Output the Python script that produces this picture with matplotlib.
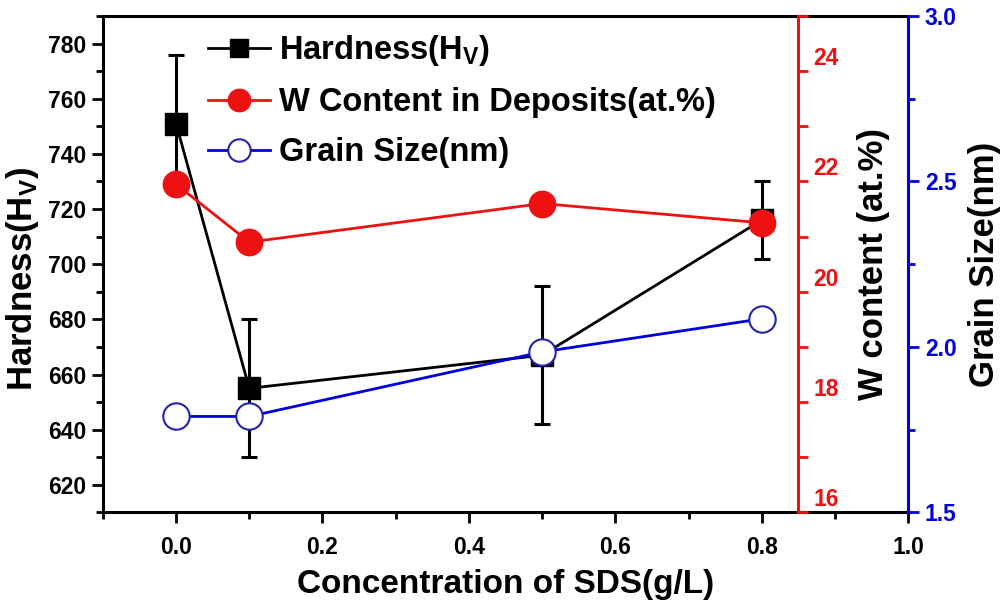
import matplotlib.pyplot as plt
from matplotlib.ticker import MultipleLocator, FuncFormatter, FormatStrFormatter
from matplotlib.transforms import ScaledTranslation

plt.rcParams['font.family'] = ['Liberation Sans', 'DejaVu Sans']
plt.rcParams['font.weight'] = 'bold'
plt.rcParams['mathtext.fontset'] = 'custom'
plt.rcParams['mathtext.rm'] = 'Liberation Sans:bold'
plt.rcParams['mathtext.it'] = 'Liberation Sans:bold'
plt.rcParams['mathtext.bf'] = 'Liberation Sans:bold'

# data
sds = [0.0, 0.1, 0.5, 0.8]
hardness = [751, 655, 667, 716]
hardness_err = [25, 25, 25, 14]
w_content = [21.95, 20.9, 21.6, 21.25]
grain_size = [1.79, 1.79, 1.985, 2.085]

red = '#ee1111'
blue = '#0000dd'
tick_size = 16.5

fig, ax = plt.subplots(figsize=(10.08, 6.05), dpi=100)
fig.subplots_adjust(left=0.102, right=0.901, top=0.9736, bottom=0.153)

# hardness on the left axis
ax.errorbar(sds, hardness, yerr=hardness_err, fmt='none', ecolor='black',
            elinewidth=2.2, capsize=6, capthick=2.2, zorder=2)
h1, = ax.plot(sds, hardness, '-s', color='black', lw=2, ms=16, zorder=3,
              label='Hardness(H$_\\mathrm{V}$)')
ax.set_xlim(-0.1, 1.0)
ax.set_ylim(610, 790)
ax.xaxis.set_major_locator(MultipleLocator(0.2))
ax.xaxis.set_minor_locator(MultipleLocator(0.1))
ax.xaxis.set_major_formatter(FormatStrFormatter('%.1f'))
ax.yaxis.set_major_locator(MultipleLocator(20))
ax.yaxis.set_minor_locator(MultipleLocator(10))
ax.tick_params(which='major', direction='out', length=8, width=2, labelsize=tick_size)
ax.tick_params(which='minor', direction='out', length=5, width=2)
ax.tick_params(axis='x', pad=9)
ax.tick_params(axis='y', pad=4)
for s in ['left', 'bottom', 'top']:
    ax.spines[s].set_linewidth(2.2)
ax.spines['right'].set_visible(False)
ax.set_xlabel('Concentration of SDS(g/L)', fontsize=24, fontweight='bold', labelpad=7)
ax.set_ylabel('Hardness(H$_\\mathrm{V}$)', fontsize=25, fontweight='bold')
ax.yaxis.set_label_coords(-0.077, 0.47)

# W content on the middle axis
axw = ax.twinx()
h2, = axw.plot(sds, w_content, '-o', color=red, lw=2, ms=19, zorder=3,
               label='W Content in Deposits(at.%)')
axw.set_ylim(16, 25)
axw.spines['right'].set_position(('data', 0.85))
for s in ['left', 'bottom', 'top']:
    axw.spines[s].set_visible(False)
axw.spines['right'].set_color(red)
axw.spines['right'].set_linewidth(2.2)
axw.yaxis.set_major_locator(MultipleLocator(1))
axw.yaxis.set_major_formatter(FuncFormatter(
    lambda v, p: f'{int(round(v))}' if round(v) % 2 == 0 and v < 24.5 else ''))
axw.tick_params(axis='y', direction='out', length=7, width=2, colors=red,
                labelsize=tick_size, pad=4)
axw.set_ylim(16, 25)
shift = ScaledTranslation(0, 11 / 72, fig.dpi_scale_trans)
for lab in axw.get_yticklabels():
    lab.set_transform(lab.get_transform() + shift)
axw.set_ylabel('W content (at.%)', fontsize=25, fontweight='bold', labelpad=13)

# grain size on the far right axis
axg = ax.twinx()
h3, = axg.plot(sds, grain_size, '-o', color=blue, lw=2, ms=19, mfc='white',
               mec='#2222aa', mew=1.5, zorder=3, label='Grain Size(nm)')
axg.set_ylim(1.5, 3.0)
for s in ['left', 'bottom', 'top']:
    axg.spines[s].set_visible(False)
axg.spines['right'].set_color(blue)
axg.spines['right'].set_linewidth(2.2)
axg.yaxis.set_major_locator(MultipleLocator(0.5))
axg.yaxis.set_minor_locator(MultipleLocator(0.25))
axg.yaxis.set_major_formatter(FormatStrFormatter('%.1f'))
axg.tick_params(axis='y', which='major', direction='out', length=8, width=2,
                colors=blue, labelsize=tick_size, pad=4)
axg.tick_params(axis='y', which='minor', direction='out', length=5, width=2, colors=blue)
axg.set_ylabel('Grain Size(nm)', fontsize=25, fontweight='bold', labelpad=8)

for a in (ax, axw, axg):
    for lab in a.get_xticklabels() + a.get_yticklabels():
        lab.set_fontweight('bold')

axg.legend(handles=[h1, h2, h3], loc='upper left', bbox_to_anchor=(0.13, 0.965),
           frameon=False, handlelength=1.9, handletextpad=0.3,
           labelspacing=0.58, borderpad=0, borderaxespad=0, markerscale=0.85,
           prop={'weight': 'bold', 'size': 23.5})

fig.savefig('out.png', dpi=100)
